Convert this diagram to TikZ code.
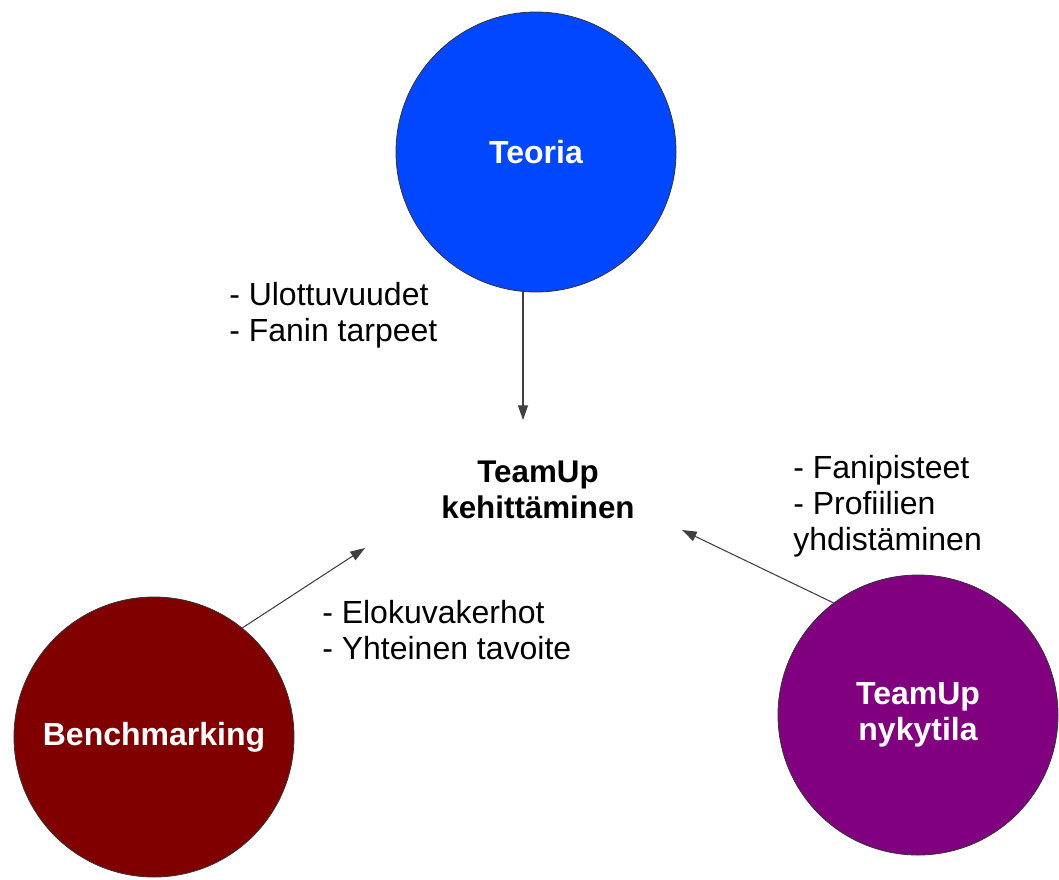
\documentclass[tikz,border=0pt]{standalone}
\usepackage{fontspec}
\setmainfont{Liberation Sans}
\usetikzlibrary{arrows.meta}

\begin{document}
\begin{tikzpicture}[x=0.75pt,y=-0.75pt,
  txt/.style={font=\fontsize{24}{27}\selectfont,align=left,inner sep=0pt},
  ball/.style={circle,draw=black!80,line width=0.6pt,text=white,align=center,inner sep=0pt,minimum size=210pt,font=\fontsize{24}{27}\selectfont\bfseries},
  arr/.style={draw=black!75,line width=0.8pt,-{Triangle[length=11pt,width=7.5pt]}}]
\useasboundingbox (0,0) rectangle (1059,879);
\node[ball,fill={rgb,255:red,0;green,71;blue,255}] (teoria) at (536,152) {Teoria};
\node[ball,fill={rgb,255:red,128;green,0;blue,0}] (bench) at (154,737) {Benchmarking};
\node[ball,fill={rgb,255:red,128;green,0;blue,128}] (nyky) at (918,715) {TeamUp\\nykytila};
\node[txt,align=center,font=\fontsize{23.5}{27}\selectfont\bfseries] (kehit) at (538,490) {TeamUp\\kehittäminen};
\coordinate (tTip) at (523,420);
\coordinate (bTip) at (365,548);
\coordinate (nTip) at (682,530);
% yhteydet
\draw[arr] (tTip |- teoria.south) -- (tTip);
\draw[arr] (bench.51) -- (bTip);
\draw[arr] (nyky.127) -- (nTip);
% tekstit
\node[txt,anchor=west] (tLab) at (229,315) {- Ulottuvuudet\\- Fanin tarpeet};
\node[txt,anchor=west] (bLab) at (322,630) {- Elokuvakerhot\\- Yhteinen tavoite};
\node[txt,anchor=west] (nLab) at (793,506) {- Fanipisteet\\- Profiilien\\yhdistäminen};
\end{tikzpicture}
\end{document}
